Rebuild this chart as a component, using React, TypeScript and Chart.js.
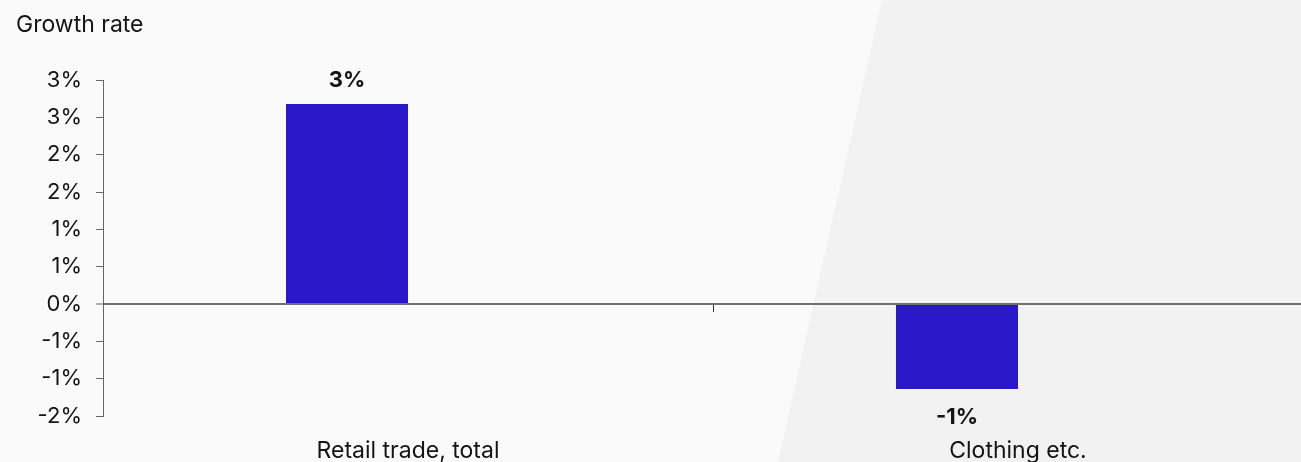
import React, { useEffect, useRef } from "react";
import { Chart, registerables } from "chart.js";

Chart.register(...registerables);

const categories: string[] = ["Retail trade, total", "Clothing etc."];
const growthValues: (number | null)[] = [2.68, -1.14];
const companionValues: (number | null)[] = [null, null];
const yMin = -1.5;
const yMax = 3;
const yStep = 0.5;
const titleText = "Growth rate";

const FONT = "Inter";
const TEXT_COLOR = "#141414";
const BAR_COLOR = "#2b19c9";

const backgroundPlugin = {
  id: "bgShade",
  beforeDraw(chart: any) {
    const { ctx, width, height } = chart;
    ctx.save();
    ctx.fillStyle = "#fafafa";
    ctx.fillRect(0, 0, width, height);
    ctx.fillStyle = "#f2f2f2";
    ctx.beginPath();
    ctx.moveTo(width * 0.6667, 0);
    ctx.lineTo(width, 0);
    ctx.lineTo(width, height);
    ctx.lineTo(width * 0.588, height);
    ctx.closePath();
    ctx.fill();
    ctx.restore();
  },
};

const valueLabelPlugin = {
  id: "valueLabels",
  afterDatasetsDraw(chart: any) {
    const { ctx } = chart;
    const meta = chart.getDatasetMeta(0);
    const data = chart.data.datasets[0].data;
    ctx.save();
    ctx.font = `bold 22px ${FONT}`;
    ctx.fillStyle = TEXT_COLOR;
    ctx.textAlign = "center";
    ctx.textBaseline = "alphabetic";
    meta.data.forEach((bar: any, i: number) => {
      const v = data[i];
      if (v === null || v === undefined) return;
      const txt = Number(v).toFixed(0) + "%";
      const y = v >= 0 ? bar.y - 17 : bar.y + 35;
      ctx.fillText(txt, bar.x, y);
    });
    ctx.restore();
  },
};

export default function App() {
  const canvasRef = useRef<HTMLCanvasElement | null>(null);

  useEffect(() => {
    document.body.style.margin = "0";
    document.body.style.background = "#fafafa";
    const canvas = canvasRef.current;
    if (!canvas) return;
    const chart = new Chart(canvas, {
      type: "bar",
      data: {
        labels: categories,
        datasets: [
          {
            label: "Growth rate",
            data: growthValues,
            backgroundColor: BAR_COLOR,
            borderWidth: 0,
            xAxisID: "x",
            yAxisID: "y",
            categoryPercentage: 0.4,
            barPercentage: 1.0,
          },
          {
            label: "Comparison",
            data: companionValues,
            backgroundColor: "#9a9a9a",
            borderWidth: 0,
            xAxisID: "x",
            yAxisID: "y",
            categoryPercentage: 0.4,
            barPercentage: 1.0,
          },
        ],
      },
      options: {
        animation: false,
        responsive: false,
        maintainAspectRatio: false,
        devicePixelRatio: 1,
        layout: { padding: { left: 16, right: 0, top: 0, bottom: 0 } },
        plugins: {
          legend: { display: false },
          tooltip: { enabled: false },
          title: {
            display: true,
            text: titleText,
            align: "start",
            color: TEXT_COLOR,
            font: { family: FONT, size: 23, weight: "normal" },
            padding: { top: 11, bottom: 41.4 },
          },
        },
        scales: {
          x: {
            type: "category",
            position: "bottom",
            offset: true,
            afterFit: (scale: any) => {
              scale.height = 46;
            },
            grid: { display: false, drawTicks: false },
            border: { display: false },
            ticks: {
              color: TEXT_COLOR,
              font: { family: FONT, size: 23 },
              padding: 21,
              maxRotation: 0,
              autoSkip: false,
            },
          },
          x2: {
            type: "category",
            position: { y: 0 } as any,
            offset: true,
            afterFit: (scale: any) => {
              scale.height = 0;
            },
            grid: {
              offset: true,
              drawOnChartArea: false,
              drawTicks: true,
              tickLength: 8,
              color: "#333333",
              lineWidth: 1,
            },
            border: { display: false },
            ticks: { display: false },
          },
          y: {
            min: yMin,
            max: yMax,
            afterFit: (scale: any) => {
              scale.width = 87;
            },
            ticks: {
              stepSize: yStep,
              color: TEXT_COLOR,
              font: { family: FONT, size: 22 },
              padding: 14,
              callback: (v: any) => Number(v).toFixed(0) + "%",
            },
            grid: {
              color: (c: any) => (c.tick && c.tick.value === 0 ? "#707070" : "rgba(0,0,0,0)"),
              lineWidth: (c: any) => (c.tick && c.tick.value === 0 ? 2 : 1),
              tickColor: "#666666",
              tickLength: 7,
              tickWidth: 1,
            },
            border: { display: true, color: "#666666", width: 1 },
          },
        },
      },
      plugins: [backgroundPlugin, valueLabelPlugin],
    });
    return () => chart.destroy();
  }, []);

  return (
    <div style={{ width: 1301, height: 462, overflow: "hidden", position: "relative", background: "#fafafa" }}>
      <canvas ref={canvasRef} width={1323} height={462} style={{ display: "block", width: 1323, height: 462 }} />
    </div>
  );
}
